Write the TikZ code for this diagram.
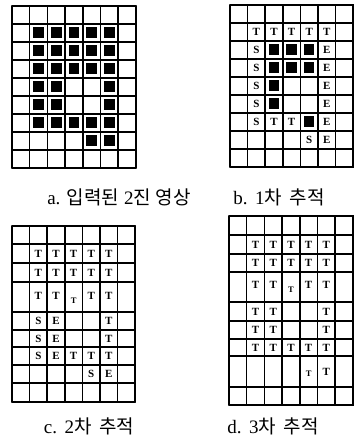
\documentclass[tikz,border=0pt]{standalone}
\usepackage{fontspec}
\usepackage{tikz}
\usetikzlibrary{positioning, calc}
\setmainfont{Liberation Serif}
\newfontfamily\krfont{Noto Sans CJK KR}
\newcommand{\gap}{\hspace{0.4em}}

\begin{document}
\begin{tikzpicture}[x=1pt, y=-1pt,
    gridline/.style={line width=1.5pt, line cap=round},
    blackcell/.style={fill=black, minimum width=10.5pt, minimum height=11pt, inner sep=0pt},
    letter/.style={font=\fontsize{11}{11}\selectfont\bfseries, inner sep=0pt},
    smallletter/.style={font=\fontsize{8.5}{8.5}\selectfont\bfseries, inner sep=0pt},
    caption/.style={font=\fontsize{19}{19}\selectfont, inner sep=0pt}
  ]
    \useasboundingbox (0,0) rectangle (353,446);

    % a. input binary image
    \foreach \y in {0,...,9}
      \draw[gridline] (12,6+18*\y) -- (136,6+18*\y);
    \foreach \x in {0,...,7}
      \draw[gridline] (12+17.7*\x,6) -- (12+17.7*\x,168);
    \foreach \r/\cols in {1/{1,2,3,4,5}, 2/{1,2,3,4,5}, 3/{1,2,3,4,5},
                          4/{1,2,5}, 5/{1,2,5}, 6/{1,2,3,4,5}, 7/{4,5}}
      \foreach \c in \cols
        \node[blackcell] at ({12+17.7*(\c+0.5)},{15+18*\r}) {};
    \node[caption] (capa) at (119,197) {a. {\krfont 입력된} 2{\krfont 진} {\krfont 영상}};

    % b. first trace
    \foreach \y in {0,...,9}
      \draw[gridline] (230,5+18*\y) -- (354,5+18*\y);
    \foreach \x in {0,...,7}
      \draw[gridline] (230+17.6*\x,5) -- (230+17.6*\x,167);
    \foreach \r/\cols in {2/{2,3,4}, 3/{2,3,4}, 4/{2}, 5/{2}, 6/{4}}
      \foreach \c in \cols
        \node[blackcell] at ({230+17.6*(\c+0.5)},{14+18*\r}) {};
    \foreach \r/\c/\t in {1/1/T, 1/2/T, 1/3/T, 1/4/T, 1/5/T,
                          2/1/S, 2/5/E, 3/1/S, 3/5/E, 4/1/S, 4/5/E,
                          5/1/S, 5/5/E, 6/1/S, 6/2/T, 6/3/T, 6/5/E,
                          7/4/S, 7/5/E}
      \node[letter] at ({230+17.6*(\c+0.5)},{14+18*\r}) {\t};
    \node[caption] (capb) at (279,197) {b.\gap 1{\krfont 차}\gap{\krfont 추적}};

    % c. second trace
    \foreach \y in {226,244,263,282,312,330,347,365,383,402}
      \draw[gridline] (12,\y) -- (135.2,\y);
    \foreach \x in {0,...,7}
      \draw[gridline] (12+17.6*\x,226) -- (12+17.6*\x,402);
    \foreach \y/\cols in {253.5/{1,2,3,4,5}, 272.5/{1,2,3,4,5}, 296/{1,2,4,5}}
      \foreach \c in \cols
        \node[letter] at ({12+17.6*(\c+0.5)},\y) {T};
    \node[smallletter] at ({12+17.6*3.5},301) {T};
    \foreach \y/\c/\t in {321/1/S, 321/2/E, 321/5/T,
                          338.5/1/S, 338.5/2/E, 338.5/5/T,
                          356/1/S, 356/2/E, 356/3/T, 356/4/T, 356/5/T,
                          374/4/S, 374/5/E}
      \node[letter] at ({12+17.6*(\c+0.5)},\y) {\t};
    \node[caption] (capc) at (89,426) {c.\gap 2{\krfont 차}\gap{\krfont 추적}};

    % d. third trace
    \foreach \y in {216,235,254,272,302,321,339,356,387,405}
      \draw[gridline] (229,\y) -- (354,\y);
    \foreach \x in {0,...,7}
      \draw[gridline] (229+17.7*\x,216) -- (229+17.7*\x,405);
    \foreach \y/\cols in {244.5/{1,2,3,4,5}, 263/{1,2,3,4,5}, 285/{1,2,4,5},
                          311.5/{1,2,5}, 330/{1,2,5}, 347.5/{1,2,3,4,5}, 372/{5}}
      \foreach \c in \cols
        \node[letter] at ({229+17.7*(\c+0.5)},\y) {T};
    \node[smallletter] at ({229+17.7*3.5},290) {T};
    \node[smallletter] at ({229+17.7*4.5},374) {T};
    \node[caption] (capd) at (273,426) {d.\gap 3{\krfont 차}\gap{\krfont 추적}};

  \end{tikzpicture}
\end{document}
